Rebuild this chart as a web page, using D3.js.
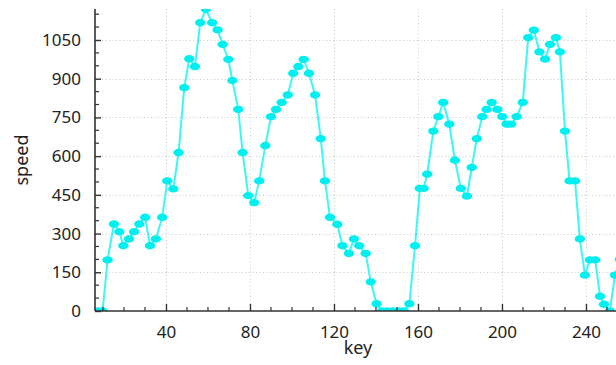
<!DOCTYPE html>
<html>
<head>
<meta charset="utf-8">
<script src="https://cdn.jsdelivr.net/npm/d3@7"></script>
<style>
  html, body { margin: 0; padding: 0; background: #fff; }
  svg { display: block; }
  text { font-family: "Noto Sans", "Open Sans", sans-serif; fill: #222; }
</style>
</head>
<body>
<svg id="chart" width="616" height="365"></svg>
<script>
const keys = [7.5, 9.8, 12.2, 15.2, 17.8, 19.7, 22.4, 24.8, 27.3, 30.1, 32.4, 35.2, 38.2, 40.6, 43.5, 46.0, 48.7, 51.1, 53.8, 56.3,
  59.0, 62.0, 64.6, 67.0, 69.7, 71.6, 74.4, 76.5, 79.2, 82.0, 84.4, 87.3, 90.0, 92.4, 95.1, 98.0, 100.6, 103.0, 105.6, 108.1,
  111.0, 113.7, 115.7, 118.1, 121.6, 124.0, 127.1, 129.5, 132.0, 135.1, 137.5, 140.3, 142.9, 145.5, 148.1, 150.7, 153.3, 155.9, 158.6, 160.9,
  162.7, 164.4, 167.3, 169.7, 172.0, 174.9, 177.6, 180.4, 183.3, 185.6, 188.0, 190.6, 192.7, 195.1, 197.8, 200.1, 202.2, 204.4, 207.0, 209.9,
  212.5, 215.2, 217.8, 220.5, 222.9, 225.7, 227.6, 230.0, 232.2, 234.8, 237.1, 239.5, 241.9, 244.4, 246.7, 248.6, 251.4, 253.8, 256.2];
const speeds = [0, 0, 198, 337, 307, 253, 279, 307, 337, 363, 253, 279, 363, 504, 473, 614, 865, 977, 947, 1117,
  1169, 1117, 1089, 1033, 975, 893, 781, 614, 447, 420, 504, 641, 753, 781, 808, 837, 921, 947, 975, 921,
  837, 668, 504, 363, 336, 253, 223, 279, 253, 223, 113, 28, 0, 0, 0, 0, 0, 28, 253, 475,
  475, 530, 697, 753, 808, 724, 584, 475, 445, 556, 668, 753, 781, 808, 781, 753, 724, 724, 753, 808,
  1059, 1088, 1004, 976, 1033, 1059, 1004, 697, 504, 504, 279, 139, 198, 198, 57, 26, 0, 139, 200];
const xTicks = [40, 80, 120, 160, 200, 240];
const yTicks = [0, 150, 300, 450, 600, 750, 900, 1050];

const data = keys.map((k, i) => ({ key: k, speed: speeds[i] }));

const mL = 95, mR = 616, mT = 9, mB = 311;
const x = d3.scaleLinear().domain([6.2, 254.3]).range([mL, mR]);
const y = d3.scaleLinear().domain([0, 1170]).range([mB, mT]);

const svg = d3.select("#chart");

svg.append("defs").append("clipPath").attr("id", "plotclip")
  .append("rect").attr("x", mL).attr("y", mT).attr("width", 640 - mL).attr("height", mB - mT);

// grid
const grid = svg.append("g").attr("stroke", "#c8c8c8").attr("stroke-width", 1).attr("stroke-dasharray", "1,2.5");
grid.selectAll(".gx").data(xTicks).join("line")
  .attr("x1", d => Math.round(x(d)) + 0.5).attr("x2", d => Math.round(x(d)) + 0.5)
  .attr("y1", mT).attr("y2", mB);
grid.selectAll(".gy").data(yTicks.filter(d => d > 0)).join("line")
  .attr("x1", mL).attr("x2", 640)
  .attr("y1", d => Math.round(y(d)) + 0.5).attr("y2", d => Math.round(y(d)) + 0.5);

// series
const plot = svg.append("g").attr("clip-path", "url(#plotclip)");
plot.append("path").datum(data)
  .attr("fill", "none").attr("stroke", "#3ff6f6").attr("stroke-width", 2)
  .attr("d", d3.line().x(d => x(d.key)).y(d => y(d.speed)));
plot.selectAll("ellipse").data(data).join("ellipse")
  .attr("cx", d => x(d.key)).attr("cy", d => y(d.speed))
  .attr("rx", 5.2).attr("ry", 3.7).attr("fill", "#00f0f0");

// x axis
const xAxis = d3.axisBottom(x).tickValues(xTicks).tickSize(-7).tickPadding(15).tickFormat(d3.format("d"));
const gx = svg.append("g").attr("transform", `translate(0,${mB})`).call(xAxis);
const xMinor = d3.range(10, 260, 10).filter(d => !xTicks.includes(d) && x(d) >= mL && x(d) <= mR);
gx.selectAll(".minor").data(xMinor).join("line").attr("class", "minor")
  .attr("x1", d => x(d)).attr("x2", d => x(d)).attr("y1", 0).attr("y2", -4)
  .attr("stroke", "#333").attr("stroke-width", 1.2);

// y axis
const yAxis = d3.axisLeft(y).tickValues(yTicks).tickSize(-6).tickPadding(14).tickFormat(d3.format("d"));
const gy = svg.append("g").attr("transform", `translate(${mL},0)`).call(yAxis);
const yMinor = d3.range(50, 1170, 50).filter(d => !yTicks.includes(d));
gy.selectAll(".minor").data(yMinor).join("line").attr("class", "minor")
  .attr("x1", 0).attr("x2", 4).attr("y1", d => y(d)).attr("y2", d => y(d))
  .attr("stroke", "#333").attr("stroke-width", 1.2);

[gx, gy].forEach(g => {
  g.select(".domain").attr("stroke", "#333").attr("stroke-width", 1.6);
  g.selectAll(".tick line").attr("stroke", "#333").attr("stroke-width", 1.4);
  g.selectAll(".tick text").attr("font-size", 17).attr("fill", "#222")
    .style("font-family", "'Noto Sans', 'Open Sans', sans-serif");
});
gx.select(".domain").attr("d", `M${mL},0H640`);
gy.select(".domain").attr("d", `M0,${mT}V${mB}`);

// axis titles
svg.append("text").attr("x", 358).attr("y", 354).attr("text-anchor", "middle")
  .attr("font-size", 18).text("key");
svg.append("text").attr("transform", "translate(28,160) rotate(-90)").attr("text-anchor", "middle")
  .attr("font-size", 18).text("speed");
</script>
</body>
</html>
